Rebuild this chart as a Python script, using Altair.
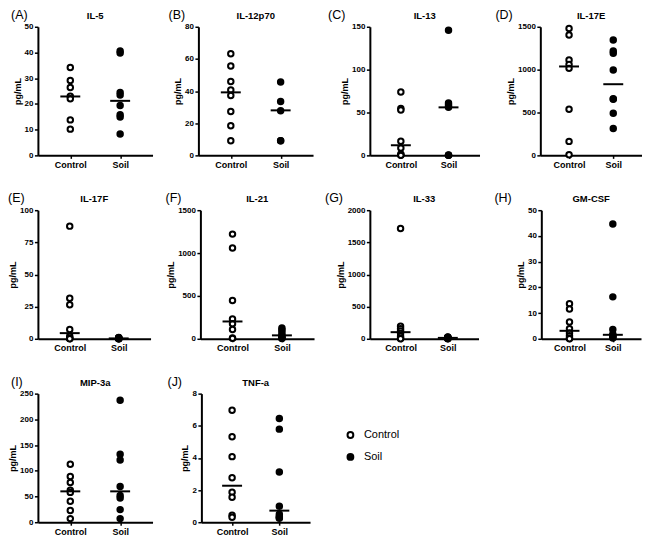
import altair as alt
import pandas as pd

FONT = "Liberation Sans"

cytokines = ["IL-5", "IL-12p70", "IL-13", "IL-17E", "IL-17F",
             "IL-21", "IL-33", "GM-CSF", "MIP-3a", "TNF-a"]
letters = ["(A)", "(B)", "(C)", "(D)", "(E)", "(F)", "(G)", "(H)", "(I)", "(J)"]
groups = ["Control", "Soil"]

y_max = [50, 80, 150, 1500, 100, 1500, 2000, 50, 250, 8]
y_ticks = [
    [0, 10, 20, 30, 40, 50],
    [0, 20, 40, 60, 80],
    [0, 50, 100, 150],
    [0, 500, 1000, 1500],
    [0, 25, 50, 75, 100],
    [0, 500, 1000, 1500],
    [0, 500, 1000, 1500, 2000],
    [0, 10, 20, 30, 40, 50],
    [0, 50, 100, 150, 200, 250],
    [0, 2, 4, 6, 8],
]

control_values = [
    [34.2, 29.1, 26.4, 23.0, 22.0, 13.8, 10.2],
    [63.2, 55.6, 45.9, 40.7, 37.2, 27.3, 18.4, 9.1],
    [74, 54.6, 53, 16.5, 8.6, 1.6, 0.3, 0],
    [1480, 1403, 1112, 1060, 1015, 539, 163, 8],
    [87.6, 31.5, 26.4, 7.2, 2, 0.5, 0.2, 0],
    [1221, 1058, 446, 230, 175, 109, 10, 5],
    [1716, 196, 155, 120, 85, 40, 10, 0],
    [13.6, 11.6, 6.5, 3.9, 2.3, 1.2, 0.3, 0],
    [112.8, 88.9, 77.3, 62, 58, 40.6, 22.6, 7],
    [6.97, 5.32, 4.08, 2.76, 1.86, 1.55, 0.43, 0.31],
]
soil_values = [
    [40.6, 39.8, 24.5, 23.5, 19.4, 15.8, 14.9, 8.3],
    [45.7, 33.5, 27.7, 9.1, 9.1],
    [146, 61, 59, 57, 56, 0.5, 0.2, 0],
    [1345, 1217, 1190, 996, 660, 655, 492, 314],
    [1.0, 0.8, 0.6, 0.4, 0.3, 0.2, 0.1, 0],
    [125, 105, 80, 50, 30, 15, 8, 3],
    [30, 25, 20, 15, 12, 8, 5, 0],
    [44.6, 16.3, 3.6, 1.8, 1.3, 1.0, 0.6, 0.3],
    [237, 132, 121, 69.6, 52, 47, 24.5, 7],
    [6.45, 5.79, 3.13, 0.99, 0.5, 0.35, 0.3, 0.25],
]
control_median = [22.9, 39.2, 11.8, 1037, 4.4, 202, 103, 3.1, 60, 2.27]
soil_median = [21.2, 28.0, 56, 830, 0.3, 40, 14, 1.55, 60, 0.72]

# layout (plot widths, gaps between plots, letter offsets)
widths = [115, 115, 110, 102, 113, 114, 109, 100, 115, 109]
gaps = [[46, 57, 61], [50, 56, 63], [49]]
letter_dx = [-27, -30, -42, -45, -30, -35, -45, -47, -27, -34]
H = 129

legend = alt.Legend(
    title=None, orient="none", legendX=308, legendY=404,
    symbolType="circle", symbolSize=34, symbolStrokeColor="black",
    symbolStrokeWidth=2, labelFont=FONT, labelFontSize=11,
    labelColor="black", rowPadding=7, labelOffset=8,
)


def make_panel(i):
    c = control_values[i]
    s = soil_values[i]
    df = pd.DataFrame({"group": ["Control"] * len(c) + ["Soil"] * len(s),
                       "value": c + s})
    med = pd.DataFrame({"group": groups,
                        "value": [control_median[i], soil_median[i]]})
    xenc = alt.X(
        "group:N", sort=groups,
        scale=alt.Scale(type="point", domain=groups, padding=0.65),
        axis=alt.Axis(title=None, labelAngle=0, labelFont=FONT,
                      labelFontWeight="bold", labelFontSize=9,
                      labelColor="black", domainColor="black", domainWidth=2,
                      tickColor="black", tickWidth=1.5, tickSize=3,
                      labelPadding=2),
    )
    yenc = alt.Y(
        "value:Q",
        scale=alt.Scale(domain=[0, y_max[i]], nice=False, zero=True),
        axis=alt.Axis(title="pg/mL", values=y_ticks[i],
                      tickCount=len(y_ticks[i]), grid=False,
                      format="d", labelOverlap=False,
                      labelFont=FONT, labelFontWeight="bold", labelFontSize=8,
                      labelColor="black", titleFont=FONT,
                      titleFontWeight="bold", titleFontSize=9,
                      titleColor="black", titlePadding=2,
                      domainColor="black", domainWidth=2, tickColor="black",
                      tickWidth=1.5, tickSize=3.5, labelPadding=1.5),
    )
    points = alt.Chart(df).mark_point(
        shape="circle", filled=True, stroke="black", strokeWidth=2,
        size=30, opacity=1,
    ).encode(
        x=xenc, y=yenc,
        fill=alt.Fill("group:N",
                      scale=alt.Scale(domain=groups, range=["white", "black"]),
                      legend=legend),
    )
    medians = alt.Chart(med).mark_tick(
        orient="horizontal", size=20, thickness=2, color="black", opacity=1
    ).encode(x=xenc, y=yenc)
    lab = alt.Chart(pd.DataFrame({"letter": [letters[i]],
                                  "name": [cytokines[i]]}))
    letter_text = lab.mark_text(
        align="left", baseline="middle", fontSize=12.5, font=FONT,
        color="black",
    ).encode(text="letter:N", x=alt.value(letter_dx[i]), y=alt.value(-12))
    title_text = lab.mark_text(
        align="center", baseline="middle", fontSize=9.5, font=FONT,
        fontWeight="bold", color="black",
    ).encode(text="name:N", x=alt.value(widths[i] / 2), y=alt.value(-11))
    return alt.layer(points, medians, letter_text, title_text).properties(
        width=widths[i], height=H)


def spacer(w):
    return alt.Chart(pd.DataFrame({"s": [0]})).mark_point(
        opacity=0, size=1).encode(x=alt.value(0), y=alt.value(0)).properties(
        width=w, height=H)


def make_row(idx, row_gaps):
    items = []
    for k, i in enumerate(idx):
        items.append(make_panel(i))
        if k < len(row_gaps):
            items.append(spacer(row_gaps[k]))
    return alt.hconcat(*items, spacing=0, bounds="flush")


rows = [
    make_row([0, 1, 2, 3], gaps[0]),
    make_row([4, 5, 6, 7], gaps[1]),
    make_row([8, 9], gaps[2]),
]
chart = alt.vconcat(*rows, spacing=23).properties(padding=0).configure_view(
    stroke=None)

chart.save("out.html", embed_options={"renderer": "svg", "actions": False})
